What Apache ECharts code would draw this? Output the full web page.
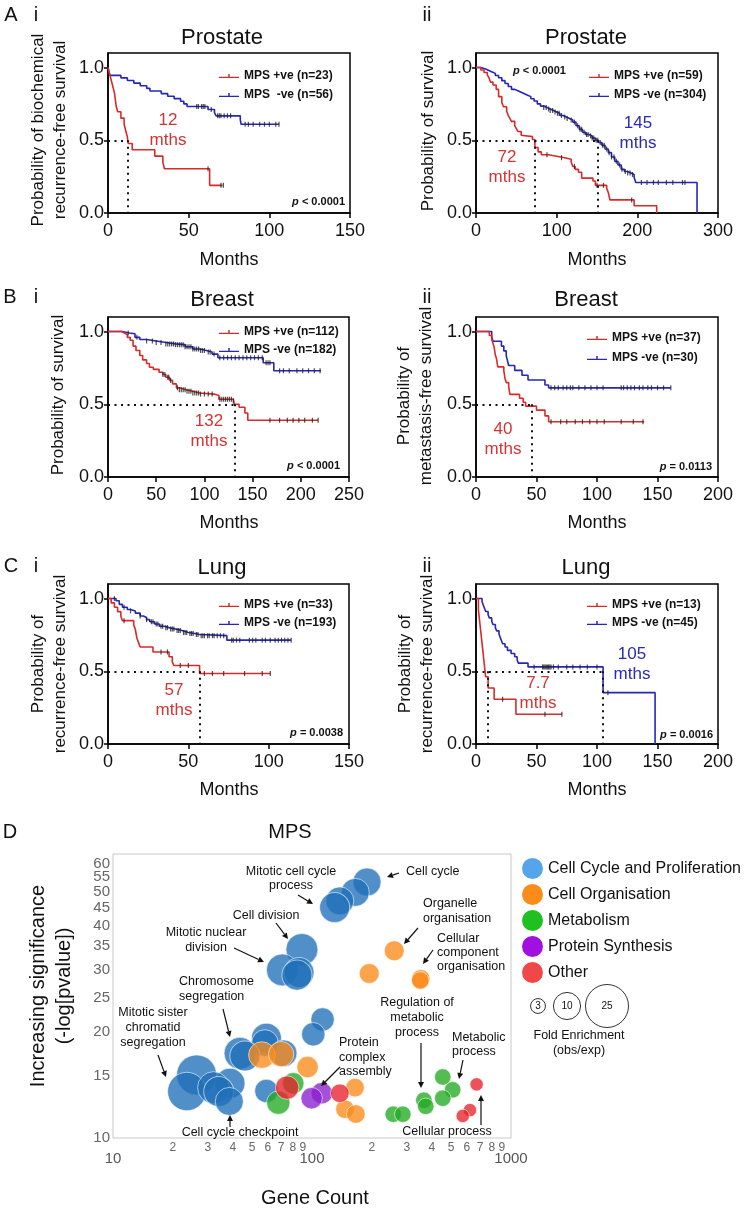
<!DOCTYPE html>
<html>
<head>
<meta charset="utf-8">
<title>MPS survival and GO enrichment</title>
<script src="https://cdn.jsdelivr.net/npm/echarts@6.0.0/dist/echarts.min.js"></script>
<style>
html,body{margin:0;padding:0;background:#fff;}
#chart{width:750px;height:1208px;}
</style>
</head>
<body>
<div id="chart"></div>
<script>
// ================= DATA =================
// Kaplan-Meier step curves: [months, survival probability]
const kmYTicks = [0, 0.5, 1.0];

// A i  Prostate (biochemical recurrence-free)
const kmAiNames = ['MPS +ve (n=23)', 'MPS  -ve (n=56)'];
const kmAiXTicks = [0, 50, 100, 150];
const kmAiPos = [[0,1],[1,0.957],[2,0.913],[3,0.87],[4,0.826],[4.5,0.783],[5,0.739],[6,0.696],[8,0.652],[10,0.609],[11,0.565],[12,0.522],[12.5,0.478],[15,0.435],[29,0.391],[34,0.348],[35,0.304],[63,0.19],[71,0.19]];
const kmAiPosCens = [62, 70, 71.5];
const kmAiNeg = [[0,1],[1,0.946],[8,0.929],[12,0.911],[16,0.893],[20,0.875],[24,0.857],[26,0.839],[33,0.821],[37,0.803],[41,0.786],[45,0.768],[47,0.75],[49,0.732],[62,0.712],[66,0.69],[67,0.668],[82,0.64],[82.5,0.61],[106,0.61]];
const kmAiNegCens = [55,56,58,59,60,64,68,69,70,72,74,76,85,87,90,94,97,100,104,106];
const kmAiMedianX = [12];
const kmAiMedianLabels = ['12'];
const kmAiP = 'p < 0.0001';

// A ii  Prostate (survival)
const kmAiiNames = ['MPS +ve (n=59)', 'MPS -ve (n=304)'];
const kmAiiXTicks = [0, 100, 200, 300];
const kmAiiPos = [[0,1],[6,0.983],[10,0.966],[14,0.95],[16,0.93],[18,0.9],[21,0.88],[25,0.85],[28,0.8],[32,0.76],[34,0.73],[38,0.7],[40,0.67],[42,0.65],[44,0.63],[48,0.6],[50,0.58],[52,0.56],[56,0.535],[58,0.525],[70,0.505],[73,0.45],[77,0.42],[81,0.4],[90,0.39],[100,0.38],[110,0.37],[118,0.35],[120,0.32],[123,0.3],[127,0.28],[131,0.24],[145,0.22],[148,0.19],[162,0.17],[164,0.14],[166,0.09],[196,0.05],[224,0]];
const kmAiiPosCens = [88, 106, 122, 150, 158, 193];
const kmAiiNeg = [[0,1],[6,0.99],[12,0.98],[16,0.97],[20,0.96],[24,0.945],[28,0.93],[32,0.91],[36,0.89],[40,0.87],[44,0.85],[48,0.84],[52,0.83],[56,0.82],[60,0.81],[64,0.8],[68,0.785],[72,0.77],[76,0.75],[80,0.735],[84,0.725],[88,0.715],[92,0.705],[96,0.695],[100,0.685],[104,0.67],[108,0.66],[112,0.65],[116,0.64],[120,0.625],[124,0.6],[128,0.575],[132,0.555],[136,0.54],[140,0.53],[144,0.515],[148,0.5],[152,0.485],[156,0.465],[160,0.44],[164,0.415],[168,0.385],[172,0.355],[176,0.33],[180,0.3],[184,0.285],[188,0.275],[192,0.265],[196,0.245],[198,0.21],[274,0]];
const kmAiiNegCens = [84,87,90,92,95,98,101,103,106,110,113,118,122,126,129,131,134,137,139,142,144,146,149,151,154,157,159,162,165,168,171,174,178,181,185,188,191,194,205,212,220,226,236,244,256,259];
const kmAiiMedianX = [73, 151];
const kmAiiMedianLabels = ['72', '145'];
const kmAiiP = 'p < 0.0001';

// B i  Breast (survival)
const kmBiNames = ['MPS +ve (n=112)', 'MPS -ve (n=182)'];
const kmBiXTicks = [0, 50, 100, 150, 200, 250];
const kmBiPos = [[0,1],[14,0.99],[17,0.98],[20,0.96],[23,0.94],[26,0.9],[29,0.87],[33,0.835],[36,0.805],[40,0.78],[43,0.755],[47,0.74],[53,0.72],[57,0.705],[60,0.686],[64,0.664],[67,0.64],[71,0.613],[74,0.6],[81,0.59],[88,0.577],[95,0.57],[110,0.56],[115,0.535],[130,0.525],[131,0.5],[136,0.48],[142,0.44],[145,0.39],[218,0.39]];
const kmBiPosCens = [57,59,62,63,65,72,74,76,78,80,82,84,86,88,90,92,94,96,100,104,108,116,118,120,122,124,126,128,130,168,178,186,192,198,204,212,218];
const kmBiNeg = [[0,1],[15,0.99],[22,0.985],[28,0.96],[33,0.945],[40,0.935],[50,0.925],[60,0.915],[70,0.91],[80,0.895],[88,0.88],[95,0.87],[102,0.86],[108,0.845],[114,0.82],[161,0.785],[172,0.73],[221,0.73]];
const kmBiNegCens = [21,30,40,46,50,55,60,62,64,66,68,70,72,74,76,78,80,82,84,86,88,90,92,94,96,98,100,104,106,110,116,120,124,128,132,136,140,144,148,152,156,160,164,166,168,178,182,188,196,202,208,214,220];
const kmBiMedianX = [132];
const kmBiMedianLabels = ['132'];
const kmBiP = 'p < 0.0001';

// B ii  Breast (metastasis-free)
const kmBiiNames = ['MPS +ve (n=37)', 'MPS -ve (n=30)'];
const kmBiiXTicks = [0, 50, 100, 150, 200];
const kmBiiPos = [[0,1],[11,0.973],[13,0.946],[14,0.919],[15,0.892],[16,0.838],[17,0.811],[18,0.757],[23,0.73],[24,0.676],[25,0.649],[27,0.622],[28,0.568],[36,0.541],[39,0.514],[41,0.487],[50,0.46],[57,0.42],[60,0.38],[139,0.38]];
const kmBiiPosCens = [62,70,75,82,88,94,100,106,120,130,138];
const kmBiiNeg = [[0,1],[13,0.967],[14,0.933],[21,0.9],[23,0.867],[25,0.833],[26,0.8],[27,0.767],[32,0.733],[38,0.7],[43,0.667],[57,0.633],[60,0.613],[161,0.613]];
const kmBiiNegCens = [62,65,68,72,75,78,80,85,90,95,100,105,120,122,125,128,131,135,138,142,145,150,155,161];
const kmBiiMedianX = [46];
const kmBiiMedianLabels = ['40'];
const kmBiiP = 'p = 0.0113';

// C i  Lung (recurrence-free)
const kmCiNames = ['MPS +ve (n=33)', 'MPS -ve (n=193)'];
const kmCiXTicks = [0, 50, 100, 150];
const kmCiPos = [[0,1],[2,0.97],[4,0.94],[6,0.91],[8,0.879],[9,0.848],[16,0.818],[17,0.788],[18,0.727],[19,0.697],[20,0.667],[28,0.633],[38,0.6],[40,0.565],[41,0.54],[57,0.485],[101,0.485]];
const kmCiPosCens = [10,33,37,45,50,60,65,72,85,96,101];
const kmCiNeg = [[0,1],[5,0.985],[7,0.96],[9,0.94],[12,0.925],[14,0.915],[17,0.9],[20,0.88],[22,0.87],[24,0.855],[26,0.84],[29,0.825],[32,0.81],[35,0.8],[38,0.79],[42,0.78],[46,0.767],[50,0.76],[54,0.753],[57,0.745],[74,0.714],[114,0.714]];
const kmCiNegCens = [4,10,14,20,24,27,28,30,31,33,34,36,37,39,40,41,43,44,45,47,48,49,51,52,53,55,56,58,59,60,62,63,65,66,68,70,72,77,78,80,82,88,90,92,96,98,101,104,106,108,110,112,114];
const kmCiMedianX = [57];
const kmCiMedianLabels = ['57'];
const kmCiP = 'p = 0.0038';

// C ii  Lung (recurrence-free)
const kmCiiNames = ['MPS +ve (n=13)', 'MPS -ve (n=45)'];
const kmCiiXTicks = [0, 50, 100, 150, 200];
const kmCiiPos = [[0,1],[2,0.923],[3,0.846],[4,0.769],[5,0.692],[6,0.615],[7,0.538],[8,0.462],[10,0.385],[15,0.308],[33,0.205],[71,0.205]];
const kmCiiPosCens = [22, 57, 71];
const kmCiiNeg = [[0,1],[5,0.978],[6,0.956],[7,0.933],[8,0.911],[10,0.889],[11,0.867],[13,0.844],[14,0.822],[16,0.8],[17,0.778],[19,0.756],[20,0.733],[21,0.711],[22,0.689],[24,0.667],[26,0.644],[29,0.622],[32,0.6],[34,0.578],[35,0.556],[43,0.53],[105,0.353],[148,0]];
const kmCiiNegCens = [48,55,56,57,58,59,60,61,62,64,68,75,80,86,92,100,109];
const kmCiiMedianX = [9.5, 105];
const kmCiiMedianLabels = ['7.7', '105'];
const kmCiiP = 'p = 0.0016';

// D  GO enrichment bubbles: [gene count, -log(p), fold enrichment]
const dCellCycle = [[189,53.3,10.6],[165,49.8,10.6],[138,47.1,10.6],[130,45.1,12.2],[89,34.3,13.8],[71,30.0,13.8],[86,29.5,12.2],[84,29.0,12.2],[113,21.7,7.4],[101.5,19.7,7.4],[59,19.2,12.2],[58,18.6,9.6],[43.5,17.4,13.8],[46,17.1,12.2],[72,17.4,9.6],[26.3,15.1,21.6],[23.5,13.55,20.0],[38.7,14.3,12.2],[32,13.9,13.8],[34,13.55,12.2],[38.4,12.7,10.6],[59,13.6,7.4]];
const dCellOrg = [[259,34.0,5.4],[194,29.3,5.4],[352,28.3,4.7],[350,28.0,4.2],[56,17.2,9.6],[70,17.3,8.7],[95,15.9,6.2],[164.5,13.9,4.7],[146.5,12.07,4.7],[166,11.7,4.7]];
const dMetabolism = [[80.5,14.3,6.2],[67.7,12.6,7.4],[365,12.8,3.7],[373,12.3,3.7],[256,11.68,3.7],[286,11.68,3.7],[454,14.9,3.7],[509,13.7,3.7],[454,12.97,3.7]];
const dProtein = [[112,13.4,6.2],[99.6,12.97,6.2]];
const dOther = [[75,13.9,7.4],[138,13.4,4.7],[672,14.2,2.4],[622,12.0,2.4],[572,11.55,2.4]];
const dCategories = ['Cell Cycle and Proliferation', 'Cell Organisation', 'Metabolism', 'Protein Synthesis', 'Other'];
const dYTicks = [10,15,20,25,30,35,40,45,50,55,60];
const dXMinorTicks = [20,30,40,50,60,70,80,90,200,300,400,500,600,700,800,900];
const dSizeLegend = [3, 10, 25];

// ================= LAYOUT / STYLE =================
const FONT = '"Liberation Sans", Arial, Helvetica, sans-serif';
const RED = '#d92a2a', BLUE = '#2626b8';
const RED_T = '#d33434', BLUE_T = '#2a2ab4';

const panels = [
  {pos:kmAiPos, neg:kmAiNeg, posC:kmAiPosCens, negC:kmAiNegCens, names:kmAiNames, xTicks:kmAiXTicks, med:kmAiMedianX,
   grid:{left:108, top:53, width:242, height:160}, legend:{left:214, top:64, gap:5}},
  {pos:kmAiiPos, neg:kmAiiNeg, posC:kmAiiPosCens, negC:kmAiiNegCens, names:kmAiiNames, xTicks:kmAiiXTicks, med:kmAiiMedianX,
   grid:{left:476, top:53, width:242, height:160}, legend:{left:584, top:64, gap:5}},
  {pos:kmBiPos, neg:kmBiNeg, posC:kmBiPosCens, negC:kmBiNegCens, names:kmBiNames, xTicks:kmBiXTicks, med:kmBiMedianX,
   grid:{left:108, top:317, width:241, height:160}, legend:{left:214, top:320, gap:4}},
  {pos:kmBiiPos, neg:kmBiiNeg, posC:kmBiiPosCens, negC:kmBiiNegCens, names:kmBiiNames, xTicks:kmBiiXTicks, med:kmBiiMedianX,
   grid:{left:476, top:317, width:242, height:160}, legend:{left:582, top:326, gap:6}},
  {pos:kmCiPos, neg:kmCiNeg, posC:kmCiPosCens, negC:kmCiNegCens, names:kmCiNames, xTicks:kmCiXTicks, med:kmCiMedianX,
   grid:{left:108, top:584, width:241, height:160}, legend:{left:214, top:593, gap:4}},
  {pos:kmCiiPos, neg:kmCiiNeg, posC:kmCiiPosCens, negC:kmCiiNegCens, names:kmCiiNames, xTicks:kmCiiXTicks, med:kmCiiMedianX,
   grid:{left:476, top:584, width:242, height:160}, legend:{left:582, top:593, gap:4}}
];

function survAt(curve, t) {
  let s = curve[0][1];
  for (const pt of curve) { if (pt[0] <= t) s = pt[1]; else break; }
  return s;
}
function bubbleSize(fe) { return 8.6 * Math.sqrt(fe); }

const grids = [], xAxes = [], yAxes = [], series = [], legends = [];
const LEG_ICON = 'path://M0,4h22v1.6h-22z M10.2,1h1.6v4h-1.6z';

panels.forEach((p, i) => {
  grids.push(Object.assign({show:true, borderColor:'#000', borderWidth:1.5, containLabel:false}, p.grid));
  const xMax = p.xTicks[p.xTicks.length - 1];
  xAxes.push({gridIndex:i, type:'value', min:0, max:xMax,
    axisLine:{show:true, onZero:false, lineStyle:{color:'#000', width:1.5}},
    axisTick:{show:true, length:5, customValues:p.xTicks, lineStyle:{color:'#000', width:1.5}},
    axisLabel:{customValues:p.xTicks, fontSize:18, color:'#111', fontFamily:FONT, margin:9},
    splitLine:{show:false}});
  yAxes.push({gridIndex:i, type:'value', min:0, max:1.1,
    axisLine:{show:true, onZero:false, lineStyle:{color:'#000', width:1.5}},
    axisTick:{show:true, length:4, customValues:kmYTicks, lineStyle:{color:'#000', width:1.5}},
    axisLabel:{customValues:kmYTicks, fontSize:18, color:'#111', fontFamily:FONT, margin:4, formatter:v => Number(v).toFixed(1)},
    splitLine:{show:false}});
  const maxMed = Math.max.apply(null, p.med);
  const mlData = [[{coord:[0,0.5]},{coord:[maxMed,0.5]}]].concat(p.med.map(m => [{coord:[m,0.5]},{coord:[m,0]}]));
  series.push({name:p.names[0], type:'line', xAxisIndex:i, yAxisIndex:i, data:p.pos, step:'end',
    symbol:'none', showSymbol:false, color:RED, lineStyle:{color:RED, width:1.6}, z:3, silent:true,
    markLine:{silent:true, symbol:['none','none'], label:{show:false}, emphasis:{disabled:true},
      lineStyle:{color:'#111', type:[2,4.5], width:2}, data:mlData}});
  series.push({name:p.names[1], type:'line', xAxisIndex:i, yAxisIndex:i, data:p.neg, step:'end',
    symbol:'none', showSymbol:false, color:BLUE, lineStyle:{color:BLUE, width:1.6}, z:2, silent:true});
  series.push({type:'scatter', xAxisIndex:i, yAxisIndex:i, silent:true, z:4,
    data:p.posC.map(t => [t, survAt(p.pos, t)]), symbol:'rect', symbolSize:[1.2,5], itemStyle:{color:'#222'}});
  series.push({type:'scatter', xAxisIndex:i, yAxisIndex:i, silent:true, z:4,
    data:p.negC.map(t => [t, survAt(p.neg, t)]), symbol:'rect', symbolSize:[1.2,5], itemStyle:{color:'#222'}});
  legends.push({data:p.names, orient:'vertical', left:p.legend.left, top:p.legend.top, itemGap:p.legend.gap,
    itemWidth:20, itemHeight:8, icon:LEG_ICON, selectedMode:false,
    textStyle:{fontSize:12, fontWeight:'bold', color:'#111', fontFamily:FONT, lineHeight:14}});
});

// ---- Panel D ----
const dIdx = panels.length;
grids.push({left:113, top:854, width:398, height:284, show:true, borderColor:'#c9c9c9', borderWidth:1});
xAxes.push({gridIndex:dIdx, type:'log', logBase:10, min:10, max:1000,
  axisLine:{show:false}, axisTick:{show:false}, splitLine:{show:false},
  axisLabel:{fontSize:15, color:'#555', fontFamily:FONT, margin:13, formatter:v => String(Math.round(v))}});
yAxes.push({gridIndex:dIdx, type:'log', logBase:10, min:10, max:64,
  axisLine:{show:false}, axisTick:{show:false}, splitLine:{show:false}, axisLabel:{show:false}});
const dSeriesData = [dCellCycle, dCellOrg, dMetabolism, dProtein, dOther];
const dColors = ['#1f6fb8', '#fb8a1a', '#22aa22', '#8a20d0', '#e8202a'];
const dLegendColors = ['#56a5ea', '#fb8c1c', '#1fc01f', '#a010e0', '#f04848'];
dCategories.forEach((name, k) => {
  series.push({name, type:'scatter', xAxisIndex:dIdx, yAxisIndex:dIdx, data:dSeriesData[k], silent:true,
    symbolSize:d => bubbleSize(d[2]), z:2,
    itemStyle:{color:dColors[k], opacity:0.78, borderColor:'rgba(255,255,255,0.75)', borderWidth:1}});
});
legends.push({data:dCategories.map((n,k) => ({name:n, itemStyle:{color:dLegendColors[k], opacity:1, borderWidth:0}})),
  orient:'vertical', left:517, top:853, itemGap:5, itemWidth:21, itemHeight:21, icon:'circle', selectedMode:false,
  textStyle:{fontSize:16, color:'#111', fontFamily:FONT}});

// ---- graphics ----
function txt(x, y, text, size, opt) {
  opt = opt || {};
  return {type:'text', x, y, silent:true, z:100, rotation:opt.rot || 0,
    style:Object.assign({text, fill:opt.color || '#111', font:(opt.weight ? opt.weight + ' ' : '') + size + 'px ' + FONT,
      textAlign:opt.align || 'center', textVerticalAlign:'middle', align:opt.align || 'center', verticalAlign:'middle'}, opt.style || {})};
}
function arrow(x1, y1, x2, y2) {
  const a = Math.atan2(y2 - y1, x2 - x1), L = 6, W = 3;
  const bx = x2 - L * Math.cos(a), by = y2 - L * Math.sin(a);
  return [
    {type:'line', silent:true, z:100, shape:{x1, y1, x2:bx, y2:by}, style:{stroke:'#111', lineWidth:1.2}},
    {type:'polygon', silent:true, z:100, shape:{points:[[x2,y2],[bx + W*Math.sin(a), by - W*Math.cos(a)],[bx - W*Math.sin(a), by + W*Math.cos(a)]]}, style:{fill:'#111'}}
  ];
}
function pText(xRight, y, str, align) {
  const parts = str.split(' ');
  return {type:'text', x:xRight, y, silent:true, z:100,
    style:{text:'{i|' + parts[0] + '} ' + parts.slice(1).join(' '), font:'bold 11px ' + FONT, fill:'#111',
      textAlign:align || 'right', align:align || 'right', textVerticalAlign:'middle', verticalAlign:'middle',
      rich:{i:{fontStyle:'italic', fontWeight:'bold', fontSize:11, fontFamily:FONT, fill:'#111'}}}};
}
const ROT = Math.PI / 2;
const g = [];
// panel letters and titles
[['A',11,15],['i',36,15],['ii',427,15],['B',10,297],['i',36,297],['ii',427,297],['C',11,566],['i',36,566],['ii',427,566],['D',10,832]]
  .forEach(a => g.push(txt(a[1], a[2], a[0], 20)));
[['Prostate',222,38],['Prostate',586,38],['Breast',222,300],['Breast',586,300],['Lung',222,568],['Lung',586,568]]
  .forEach(a => g.push(txt(a[1], a[2], a[0], 22)));
// axis titles
[260, 523, 790].forEach(y => { g.push(txt(229, y, 'Months', 18)); g.push(txt(597, y, 'Months', 18)); });
[['Probability of biochemical',38,130],['recurrence-free survival',60,130],['Probability of survival',428,131],
 ['Probability of survival',58,395],['Probability of',404,396],['metastasis-free survival',426,396],
 ['Probability of',38,664],['recurrence-free survival',60,664],['Probability of',405,664],['recurrence-free survival',427,664]]
  .forEach(a => g.push(txt(a[1], a[2], a[0], 17, {rot:ROT})));
// p values
g.push(pText(345, 202, kmAiP));
g.push(pText(513, 71, kmAiiP, 'left'));
g.push(pText(340, 466, kmBiP));
g.push(pText(712, 467, kmBiiP));
g.push(pText(343, 733, kmCiP));
g.push(pText(713, 735, kmCiiP));
// median labels
function med(x, y, label, color) { g.push(txt(x, y, label, 17, {color})); g.push(txt(x, y + 20, 'mths', 17, {color})); }
med(168, 120, kmAiMedianLabels[0], RED_T);
med(507, 157, kmAiiMedianLabels[0], RED_T);
med(638, 123, kmAiiMedianLabels[1], BLUE_T);
med(209, 421, kmBiMedianLabels[0], RED_T);
med(503, 429, kmBiiMedianLabels[0], RED_T);
med(174, 690, kmCiMedianLabels[0], RED_T);
med(538, 683, kmCiiMedianLabels[0], RED_T);
med(632, 654, kmCiiMedianLabels[1], BLUE_T);

// Panel D texts
g.push(txt(290, 832, 'MPS', 20));
g.push(txt(315, 1198, 'Gene Count', 20));
g.push(txt(38, 986, 'Increasing significance', 20, {rot:ROT}));
g.push(txt(64, 986, '(-log[pvalue])', 20, {rot:ROT}));
const ann = [
  [['Mitotic cell cycle','process'], 291, [872,886], 'center', [298,895,313,904]],
  [['Cell cycle'], 406, [872], 'left', [399,873,387,877]],
  [['Organelle','organisation'], 423, [904,919], 'left', [418,928,404,944]],
  [['Cellular','component','organisation'], 437, [939,953,967], 'left', [433,950,423,964]],
  [['Cell division'], 266, [916], 'center', [276,923,288,939]],
  [['Mitotic nuclear','division'], 206, [933,948], 'center', [234,948,264,962]],
  [['Chromosome','segregation'], 179, [982,997], 'left', [223,1009,230,1037]],
  [['Mitotic sister','chromatid','segregation'], 153, [1013,1028,1043], 'center', [158,1055,166,1077]],
  [['Cell cycle checkpoint'], 240, [1133], 'center', [230,1127,230,1115]],
  [['Protein','complex','assembly'], 339, [1043,1058,1072], 'left', [340,1067,321,1086]],
  [['Regulation of','metabolic','process'], 417, [1003,1018,1033], 'center', [421,1043,421,1088]],
  [['Metabolic','process'], 452, [1038,1052], 'left', [463,1060,459,1079]],
  [['Cellular process'], 447, [1132], 'center', [481,1125,481,1095]]
];
ann.forEach(a => {
  a[0].forEach((line, j) => g.push(txt(a[1], a[2][j], line, 12.5, {align:a[3]})));
  arrow(a[4][0], a[4][1], a[4][2], a[4][3]).forEach(e => g.push(e));
});
// size legend
const sizeCx = [538, 567, 607];
dSizeLegend.forEach((v, k) => {
  g.push({type:'circle', silent:true, z:100, shape:{cx:sizeCx[k], cy:1006, r:bubbleSize(v)/2}, style:{fill:'none', stroke:'#333', lineWidth:1}});
  g.push(txt(sizeCx[k], 1006, String(v), 10));
});
g.push(txt(579, 1036, 'Fold Enrichment', 12.5));
g.push(txt(579, 1051, '(obs/exp)', 12.5));

const option = {
  animation:false,
  backgroundColor:'#fff',
  textStyle:{fontFamily:FONT},
  grid:grids, xAxis:xAxes, yAxis:yAxes, legend:legends, series
};
const chart = echarts.init(document.getElementById('chart'), null, {renderer:'canvas', width:750, height:1208});
chart.setOption(option);

// tick labels of the log-scaled panel D, placed through the chart's own scales
dYTicks.forEach(v => {
  const pt = chart.convertToPixel({gridIndex:dIdx}, [10, v]);
  g.push(txt(pt[0] - 3, pt[1], String(v), 15, {align:'right', color:'#666'}));
});
dXMinorTicks.forEach(v => {
  const pt = chart.convertToPixel({gridIndex:dIdx}, [v, 10]);
  const lead = String(v)[0];
  g.push(txt(pt[0], 1148, lead, 12, {color:'#666'}));
});
chart.setOption({graphic:{elements:g}});
</script>
</body>
</html>
